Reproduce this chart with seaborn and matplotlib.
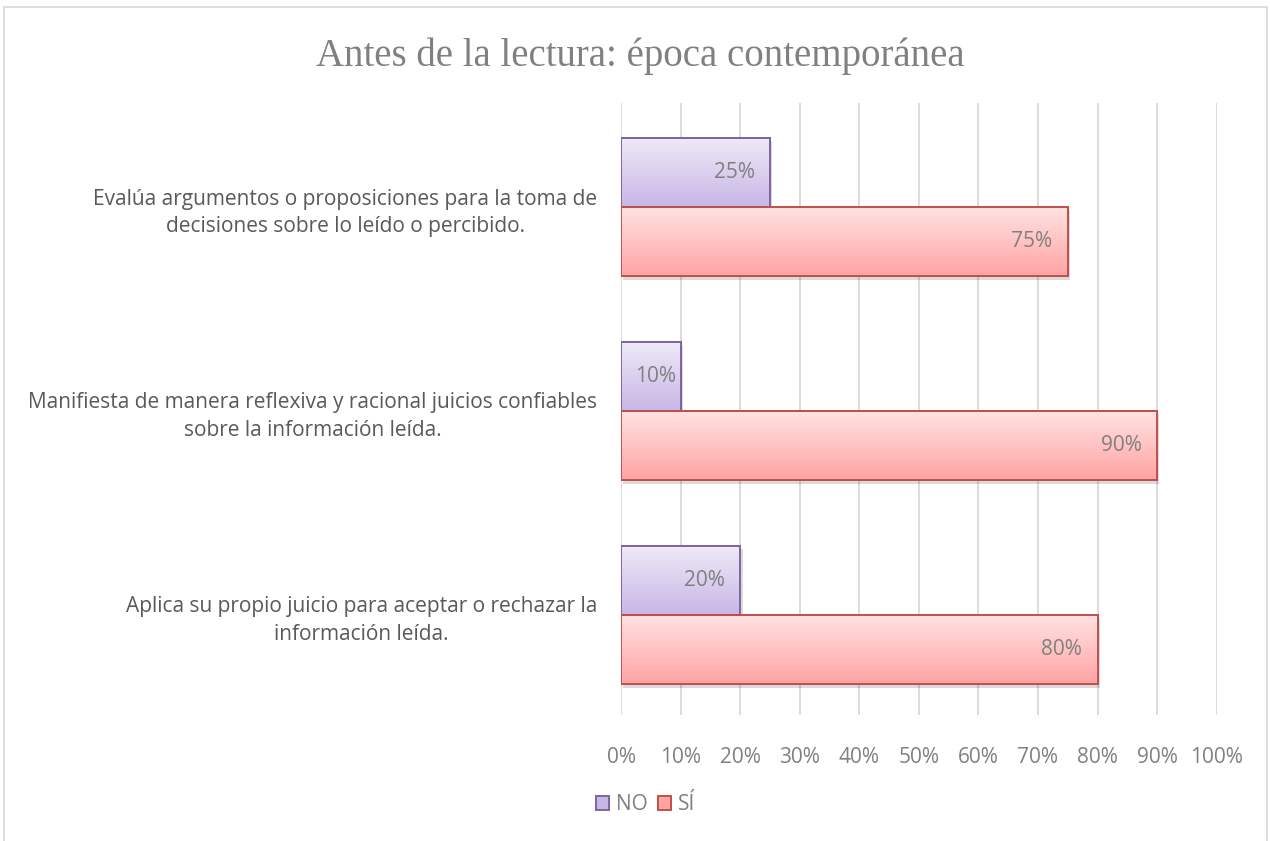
import numpy as np
import pandas as pd
import matplotlib
matplotlib.use("Agg")
import matplotlib.pyplot as plt
from matplotlib.patches import Rectangle, Patch
from matplotlib.colors import LinearSegmentedColormap
from matplotlib.transforms import offset_copy
import seaborn as sns

# data
categorias = [
    "Evalúa argumentos o proposiciones para la toma de\ndecisiones sobre lo leído o percibido.",
    "Manifiesta de manera reflexiva y racional juicios confiables\nsobre la información leída.",
    "Aplica su propio juicio para aceptar o rechazar la\ninformación leída.",
]
respuestas = ["NO", "SÍ"]
valores_no = [0.25, 0.10, 0.20]
valores_si = [0.75, 0.90, 0.80]
ticks_x = [0, 0.1, 0.2, 0.3, 0.4, 0.5, 0.6, 0.7, 0.8, 0.9, 1.0]

df = pd.DataFrame({
    "categoria": categorias * 2,
    "respuesta": ["NO"] * 3 + ["SÍ"] * 3,
    "valor": valores_no + valores_si,
})

sns.set_theme(style="white")
plt.rcParams["font.family"] = ["Open Sans", "DejaVu Sans"]

gris = "#808080"
gris_txt = "#595959"
bordes = {"NO": "#8064A2", "SÍ": "#C0504D"}
degradados = {"NO": ("#EFEAF8", "#C8B6E6"), "SÍ": ("#FFE3E3", "#FFA3A3")}

fig = plt.figure(figsize=(12.7, 8.41), dpi=100)
fig.patch.set_facecolor("white")
# chart border
fig.add_artist(Rectangle((0.003, -0.01), 0.995, 1 - 0.008 + 0.01, transform=fig.transFigure,
                         fill=False, edgecolor="#D9D9D9", linewidth=1.2))

ax = fig.add_axes([0.489, 0.150, 0.469, 0.7275])
sns.barplot(data=df, y="categoria", x="valor", hue="respuesta", hue_order=respuestas,
            orient="h", width=0.68, ax=ax, legend=False, saturation=1)

ax.set_xlim(0, 1)
ax.set_xticks(ticks_x)
ax.set_xticklabels([f"{int(round(t * 100))}%" for t in ticks_x])
ax.xaxis.grid(True, color="#D9D9D9", linewidth=1.3)
ax.set_axisbelow(True)
for s in ax.spines.values():
    s.set_visible(False)
ax.set_xlabel("")
ax.set_ylabel("")
ax.tick_params(axis="x", length=0, pad=23, labelsize=15, labelcolor=gris)
ax.tick_params(axis="y", length=0, pad=17, labelsize=15, labelcolor=gris_txt)
for lab in ax.get_yticklabels():
    lab.set_multialignment("center")
    lab.set_linespacing(1.4)

# gradient fills, edges, shadow and value labels
bars = list(ax.patches)
for i, p in enumerate(bars):
    resp = respuestas[i // len(categorias)]
    x0, y0, w, h = p.get_x(), p.get_y(), p.get_width(), p.get_height()
    if w <= 0:
        continue
    top, bot = degradados[resp]
    cmap = LinearSegmentedColormap.from_list("g", [top, bot])
    grad = np.linspace(0, 1, 100).reshape(-1, 1)
    # shadow
    sh = Rectangle((x0 + 0.004, y0 + 0.016), w, h, facecolor="#000000", alpha=0.14,
                   edgecolor="none", zorder=1.5)
    ax.add_patch(sh)
    p.set_facecolor("white")
    p.set_edgecolor(bordes[resp])
    p.set_linewidth(1.4)
    p.set_zorder(2)
    im = ax.imshow(grad, cmap=cmap, aspect="auto", extent=(x0, x0 + w, y0 + h, y0),
                   origin="upper", zorder=2.1)
    im.set_clip_path(p)
    edge = Rectangle((x0, y0), w, h, fill=False, edgecolor=bordes[resp], linewidth=1.4, zorder=2.2)
    ax.add_patch(edge)
    # short bars: label hugs the bar end
    dx = -11 if w > 0.15 else -3
    tr = offset_copy(ax.transData, fig=fig, x=dx, y=0, units="points")
    ax.text(x0 + w, y0 + h / 2, f"{int(round(w * 100))}%", ha="right", va="center",
            fontsize=15, color=gris, zorder=3, transform=tr)

ax.set_ylim(2.49, -0.51)
ax.set_xlim(0, 1)

fig.text(0.504, 0.933, "Antes de la lectura: época contemporánea", ha="center", va="center",
         fontsize=28, color=gris, family="Liberation Serif")

# legend
handles = [Patch(facecolor=degradados[r][1], edgecolor=bordes[r], linewidth=1.4, label=r)
           for r in respuestas]
fig.legend(handles=handles, loc="center", bbox_to_anchor=(0.5085, 0.043), ncol=2, frameon=False,
           fontsize=15, labelcolor=gris, handlelength=0.6, handleheight=0.6, handletextpad=0.35,
           columnspacing=0.5)

fig.savefig("out.png", dpi=100, facecolor="white")
